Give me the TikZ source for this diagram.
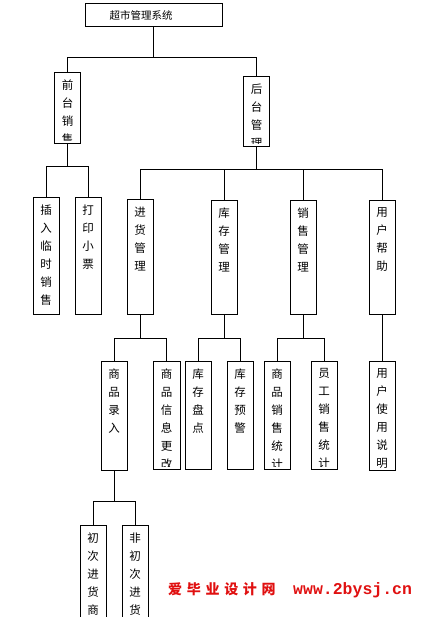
\documentclass[tikz,border=0pt]{standalone}
\usepackage{fontspec}
\setmainfont{Noto Sans CJK SC}
\newfontfamily\wmmono{Liberation Mono}
\usepackage{xcolor}
\usetikzlibrary{positioning,calc}
\definecolor{wmred}{HTML}{E01010}

\begin{document}
\begin{tikzpicture}[x=1pt,y=-1pt,
  line/.style={draw=black,line width=0.8pt},
  vtext/.style={draw=none,anchor=north,align=center,inner sep=0pt,minimum width=0pt,minimum height=0pt,
    font=\fontsize{11.5pt}{18pt}\selectfont},
  vbox/.style={line,minimum width=26,inner sep=0pt,
    path picture={\clip ([yshift=2.5pt]path picture bounding box.south west) rectangle (path picture bounding box.north east);
      \node[vtext] at ([yshift=-7.2pt]path picture bounding box.north) {#1};}},
  rootbox/.style={line,minimum width=137,minimum height=23,inner sep=0pt},
  wm/.style={text=wmred,inner sep=0pt,anchor=base west}]
  \useasboundingbox (0,0) rectangle (425,617);
  \clip (0,0) rectangle (425,617);
  % top
  \node[rootbox] (root) at (153.5,14.5) {};
  \node[font=\fontsize{10.5pt}{12pt}\selectfont,inner sep=0pt] (title) at (141,15) {超市管理系统};
  \node[vbox={前\\台\\销\\售},minimum height=71] (front) at (67.5,107.5) {};
  \node[vbox={后\\台\\管\\理},minimum height=70] (back) at (256.5,111) {};
  % front desk
  \node[vbox={插\\入\\临\\时\\销\\售},minimum height=117] (insert) at (46,255.5) {};
  \node[vbox={打\\印\\小\\票},minimum height=117] (print) at (88,255.5) {};
  % back office
  \node[vbox={进\\货\\管\\理},minimum height=115] (stock) at (140,256.5) {};
  \node[vbox={库\\存\\管\\理},minimum height=114] (inventory) at (224,257) {};
  \node[vbox={销\\售\\管\\理},minimum height=114] (salesmgr) at (303,257) {};
  \node[vbox={用\\户\\帮\\助},minimum height=114] (help) at (382,257) {};
  % third level
  \node[vbox={商\\品\\录\\入},minimum height=109] (entry) at (114,415.5) {};
  \node[vbox={商\\品\\信\\息\\更\\改},minimum height=108,minimum width=27] (update) at (166.5,415) {};
  \node[vbox={库\\存\\盘\\点},minimum height=108] (check) at (198,415) {};
  \node[vbox={库\\存\\预\\警},minimum height=108] (warn) at (240,415) {};
  \node[vbox={商\\品\\销\\售\\统\\计},minimum height=108] (goodsstat) at (277,415) {};
  \node[vbox={员\\工\\销\\售\\统\\计},minimum height=108] (staffstat) at (324,415) {};
  \node[vbox={用\\户\\使\\用\\说\\明},minimum height=109] (manual) at (382,415.5) {};
  % fourth level
  \node[vbox={初\\次\\进\\货\\商},minimum height=120] (first) at (93,585) {};
  \node[vbox={非\\初\\次\\进\\货\\商},minimum height=120] (again) at (135,585) {};
  % connectors
  \path (root.south) ++(0,31) coordinate (j1);
  \draw[line] (root.south) -- (j1);
  \draw[line] (front.north) |- (j1) -| (back.north);
  \path (front.south) ++(0,23) coordinate (j2);
  \draw[line] (front.south) -- (j2);
  \draw[line] (insert.north) |- (j2) -| (print.north);
  \path (back.south) ++(0,23) coordinate (j3);
  \draw[line] (back.south) -- (j3);
  \draw[line] (stock.north) |- (j3) -| (help.north);
  \draw[line] (inventory.north) -- (inventory.north |- j3);
  \draw[line] (salesmgr.north) -- (salesmgr.north |- j3);
  \path (stock.south) ++(0,24) coordinate (j4);
  \draw[line] (stock.south) -- (j4);
  \draw[line] (entry.north) |- (j4) -| (update.north);
  \path (inventory.south) ++(0,24) coordinate (j5);
  \draw[line] (inventory.south) -- (j5);
  \draw[line] (check.north) |- (j5) -| (warn.north);
  \path (salesmgr.south) ++(0,24) coordinate (j6);
  \draw[line] (salesmgr.south) -- (j6);
  \draw[line] (goodsstat.north) |- (j6) -| (staffstat.north);
  \draw[line] (help.south) -- (manual.north);
  \path (entry.south) ++(0,31) coordinate (j7);
  \draw[line] (entry.south) -- (j7);
  \draw[line] (first.north) |- (j7) -| (again.north);
  % watermark
  \node[wm,font=\bfseries\fontsize{14pt}{14pt}\selectfont] (wmcn) at (168,594)
    {爱\kern4.7pt 毕\kern4.7pt 业\kern4.7pt 设\kern4.7pt 计\kern4.7pt 网};
  \node[wm,font=\wmmono\bfseries\fontsize{16.5pt}{16.5pt}\selectfont] (wmurl) at (293,594) {www.2bysj.cn};
\end{tikzpicture}
\end{document}
